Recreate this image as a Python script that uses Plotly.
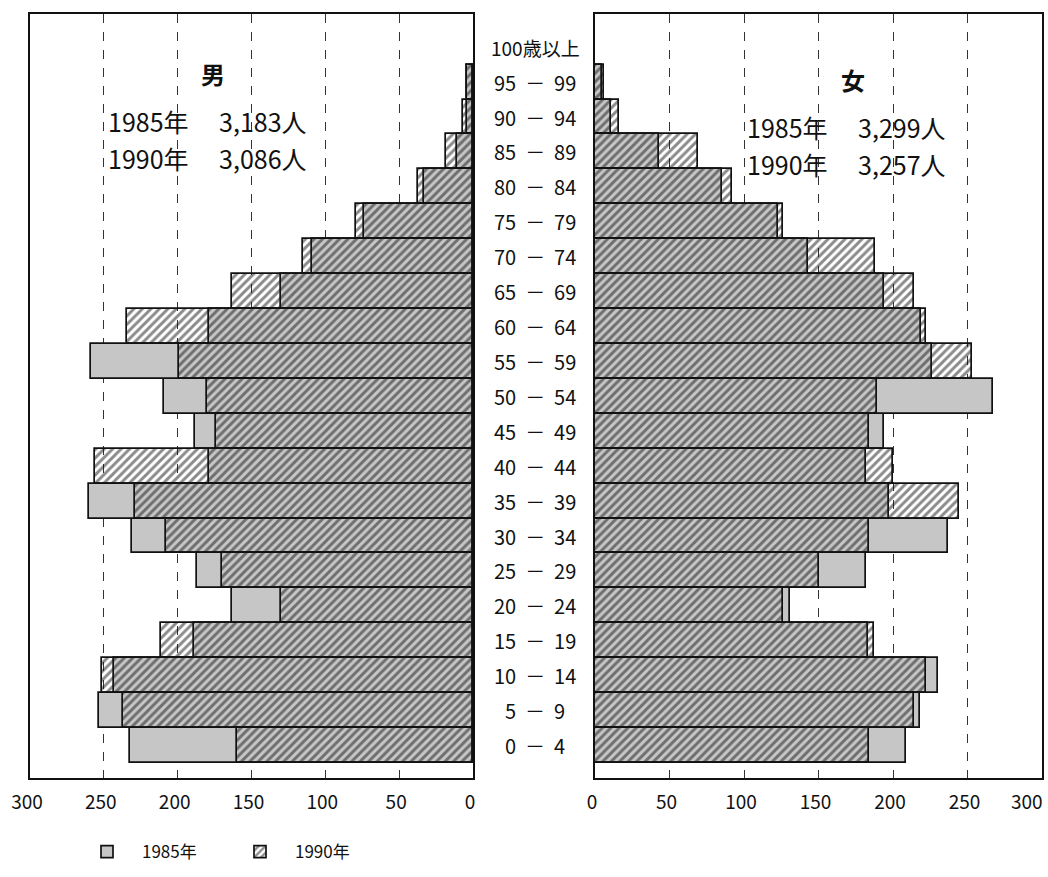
import plotly.graph_objects as go

ages = ["0－4", "5－9", "10－14", "15－19", "20－24", "25－29", "30－34", "35－39",
        "40－44", "45－49", "50－54", "55－59", "60－64", "65－69", "70－74", "75－79",
        "80－84", "85－89", "90－94", "95－99", "100歳以上"]
age_labels = ["0 \u00a0－\u00a0 4", "5 \u00a0－\u00a0 9", "10 \u00a0－\u00a0 14", "15 \u00a0－\u00a0 19",
              "20 \u00a0－\u00a0 24", "25 \u00a0－\u00a0 29", "30 \u00a0－\u00a0 34", "35 \u00a0－\u00a0 39",
              "40 \u00a0－\u00a0 44", "45 \u00a0－\u00a0 49", "50 \u00a0－\u00a0 54", "55 \u00a0－\u00a0 59",
              "60 \u00a0－\u00a0 64", "65 \u00a0－\u00a0 69", "70 \u00a0－\u00a0 74", "75 \u00a0－\u00a0 79",
              "80 \u00a0－\u00a0 84", "85 \u00a0－\u00a0 89", "90 \u00a0－\u00a0 94", "95 \u00a0－\u00a0 99",
              "100歳以上"]

male_1985 = [232, 253, 243, 189, 163, 187, 231, 260, 179, 188, 209, 259, 179, 130, 109, 74, 33, 11, 4, 4, None]
male_1990 = [160, 237, 251, 211, 130, 170, 208, 229, 256, 174, 180, 199, 234, 163, 115, 79, 37, 18, 7, 4, None]
female_1985 = [209, 218, 230, 183, 131, 182, 237, 197, 182, 194, 267, 226, 219, 194, 143, 123, 85, 43, 11, 5, None]
female_1990 = [184, 214, 222, 187, 126, 150, 184, 244, 200, 184, 189, 253, 222, 214, 188, 126, 92, 69, 16, 6, None]

ticks = [0, 50, 100, 150, 200, 250, 300]
male_ticktext = ["0", "50", "100", "150", "200", "250", "300"]
female_ticktext = ["0", "50", "100", "150", "200", "250", ""]
female_edge_label = "300"
years = ["1985年", "1990年"]
male_title = "男"
female_title = "女"
male_totals = ["1985年\u3000 3,183人", "1990年\u3000 3,086人"]
female_totals = ["1985年\u3000 3,299人", "1990年\u3000 3,257人"]

W, H = 1048, 877
FONT = "Noto Sans CJK JP"
GRAY = "#c6c6c6"
LINE = dict(color="#111111", width=1.7)
hatch = dict(shape="/", fgcolor="#151515", bgcolor="rgba(0,0,0,0)", size=6, solidity=0.48)

fig = go.Figure()

for (v85, v90), xa, ya, show in [((male_1985, male_1990), "x", "y", True),
                                  ((female_1985, female_1990), "x2", "y2", False)]:
    fig.add_trace(go.Bar(
        x=v85, y=ages, orientation="h", xaxis=xa, yaxis=ya,
        name=years[0], marker=dict(color=GRAY, line=LINE), showlegend=show, legendgroup="a",
    ))
    fig.add_trace(go.Bar(
        x=v90, y=ages, orientation="h", xaxis=xa, yaxis=ya,
        name=years[1], marker=dict(color="rgba(0,0,0,0)", line=LINE, pattern=hatch),
        showlegend=show, legendgroup="b",
    ))

axis_common = dict(
    tickvals=ticks, automargin=False, ticklabeloverflow="allow", ticklabelstandoff=6,
    showgrid=True, gridcolor="#333333", griddash="dash", gridwidth=1,
    showline=True, linecolor="#111111", linewidth=2, mirror=True,
    ticks="", zeroline=False, tickfont=dict(family=FONT, size=19, color="#111111"),
)
yaxis_common = dict(
    type="category", categoryorder="array", categoryarray=ages, automargin=False,
    range=[-0.93, 20.95], showticklabels=False, ticks="", showgrid=False,
    showline=True, linecolor="#111111", linewidth=2, mirror=True, zeroline=False,
)

fig.update_layout(
    width=W, height=H,
    margin=dict(l=0, r=0, t=0, b=0, autoexpand=False),
    paper_bgcolor="white", plot_bgcolor="white",
    barmode="overlay", bargap=0,
    font=dict(family=FONT, color="#111111"),
    xaxis=dict(domain=[30 / W, 473 / W], anchor="y", range=[300, 0], ticktext=male_ticktext,
               ticklabelshift=3, **axis_common),
    xaxis2=dict(domain=[595 / W, 1042 / W], anchor="y2", range=[0, 300], ticktext=female_ticktext,
                ticklabelshift=-3, **axis_common),
    yaxis=dict(domain=[(H - 778) / H, (H - 14) / H], anchor="x", **yaxis_common),
    yaxis2=dict(domain=[(H - 778) / H, (H - 14) / H], anchor="x2", **yaxis_common),
    legend=dict(orientation="h", x=72 / W, y=1 - 852 / H, xanchor="left", yanchor="middle",
                font=dict(family=FONT, size=17), itemwidth=60, entrywidth=78, entrywidthmode="pixels",
                bgcolor="rgba(0,0,0,0)", traceorder="normal"),
)

# right-most tick label of the female axis, pulled inside the page like the reference
fig.add_annotation(x=ticks[-1], xref="x2", y=0, yref="paper", yanchor="bottom", xanchor="right",
                   xshift=3, yshift=(H - 778) - 38, text=female_edge_label, showarrow=False,
                   font=dict(family=FONT, size=19, color="#111111"))

# age labels between panels
for cat, lab in zip(ages, age_labels):
    fig.add_annotation(x=535 / W, xref="paper", y=cat, yref="y", text=lab,
                       showarrow=False, xanchor="center", yanchor="middle",
                       font=dict(family=FONT, size=20 if "歳" not in lab else 19))

# panel titles and totals
fig.add_annotation(x=213 / W, y=1 - 73 / H, xref="paper", yref="paper", text=f"<b>{male_title}</b>",
                   xanchor="center", yanchor="middle", showarrow=False, font=dict(family=FONT, size=24))
fig.add_annotation(x=853 / W, y=1 - 80 / H, xref="paper", yref="paper", text=f"<b>{female_title}</b>",
                   xanchor="center", yanchor="middle", showarrow=False, font=dict(family=FONT, size=24))
for i, t in enumerate(male_totals):
    fig.add_annotation(x=106 / W, y=1 - (121 + 37 * i) / H, xref="paper", yref="paper", text=t,
                       showarrow=False, xanchor="left", yanchor="middle", font=dict(family=FONT, size=25))
for i, t in enumerate(female_totals):
    fig.add_annotation(x=745 / W, y=1 - (127 + 37 * i) / H, xref="paper", yref="paper", text=t,
                       showarrow=False, xanchor="left", yanchor="middle", font=dict(family=FONT, size=25))

fig.write_html("out.html", config={"displayModeBar": False},
               post_script="document.body.style.margin='0';document.body.style.overflow='hidden';")
